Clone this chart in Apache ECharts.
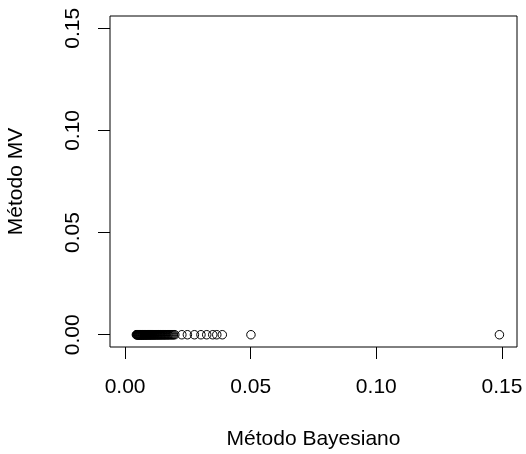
<!DOCTYPE html>
<html>
<head>
<meta charset="utf-8">
<script src="https://cdn.jsdelivr.net/npm/echarts@6/dist/echarts.min.js"></script>
<style>
html,body{margin:0;padding:0;background:#fff;}
#chart{width:526px;height:454px;}
</style>
</head>
<body>
<div id="chart"></div>
<script>
// Data (x = Método Bayesiano, y = Método MV)
var bayesValues = [
  0.0045, 0.0047, 0.0048, 0.0050, 0.0051, 0.0053, 0.0054, 0.0056, 0.0057, 0.0059,
  0.0060, 0.0062, 0.0063, 0.0065, 0.0067, 0.0068, 0.0070, 0.0071, 0.0073, 0.0075,
  0.0076, 0.0078, 0.0080, 0.0081, 0.0083, 0.0085, 0.0087, 0.0088, 0.0090, 0.0092,
  0.0094, 0.0096, 0.0098, 0.0100, 0.0102, 0.0104, 0.0106, 0.0108, 0.0110, 0.0113,
  0.0115, 0.0117, 0.0119, 0.0122, 0.0124, 0.0127, 0.0129, 0.0132, 0.0134, 0.0137,
  0.0140, 0.0142, 0.0145, 0.0148, 0.0151, 0.0154, 0.0157, 0.0160, 0.0163, 0.0167,
  0.0170, 0.0173, 0.0177, 0.0181, 0.0185, 0.0189, 0.0193, 0.0198,
  0.0226, 0.0248, 0.0276, 0.0302, 0.0325, 0.0349, 0.0365, 0.0387, 0.0501, 0.1490
];
var mvValues = [
  0, 0, 0, 0, 0, 0, 0, 0, 0, 0,
  0, 0, 0, 0, 0, 0, 0, 0, 0, 0,
  0, 0, 0, 0, 0, 0, 0, 0, 0, 0,
  0, 0, 0, 0, 0, 0, 0, 0, 0, 0,
  0, 0, 0, 0, 0, 0, 0, 0, 0, 0,
  0, 0, 0, 0, 0, 0, 0, 0, 0, 0,
  0, 0, 0, 0, 0, 0, 0, 0,
  0, 0, 0, 0, 0, 0, 0, 0, 0, 0
];
var xTicks = [0, 0.05, 0.10, 0.15];
var yTicks = [0, 0.05, 0.10, 0.15];
var xTitle = 'Método Bayesiano';
var yTitle = 'Método MV';

var points = bayesValues.map(function (v, i) { return [v, mvValues[i]]; });
var font = "'Liberation Sans', Arial, sans-serif";

var chart = echarts.init(document.getElementById('chart'), null, {renderer: 'canvas'});
chart.setOption({
  animation: false,
  backgroundColor: '#ffffff',
  grid: {
    left: 110, right: 9, top: 16, bottom: 107,
    outerBoundsMode: 'none',
    containLabel: false,
    show: true, borderColor: '#000', borderWidth: 1, backgroundColor: 'transparent'
  },
  xAxis: {
    type: 'value',
    min: -0.006, max: 0.156,
    name: xTitle,
    nameLocation: 'middle',
    nameGap: 82,
    nameTextStyle: {fontFamily: font, fontSize: 21, color: '#000'},
    axisLine: {show: false, onZero: false},
    axisTick: {show: true, inside: false, length: 12, customValues: xTicks,
      lineStyle: {color: '#000', width: 1}},
    axisLabel: {show: true, customValues: xTicks, margin: 30,
      fontFamily: font, fontSize: 21, color: '#000',
      formatter: function (v) { return v.toFixed(2); }},
    splitLine: {show: false}
  },
  yAxis: {
    type: 'value',
    min: -0.006, max: 0.156,
    name: yTitle,
    nameLocation: 'middle',
    nameGap: 83,
    nameTextStyle: {fontFamily: font, fontSize: 21, color: '#000'},
    axisLine: {show: false, onZero: false},
    axisTick: {show: true, inside: false, length: 12, customValues: yTicks,
      lineStyle: {color: '#000', width: 1}},
    axisLabel: {show: true, customValues: yTicks, margin: 26, rotate: 90,
      fontFamily: font, fontSize: 21, color: '#000',
      formatter: function (v) { return v.toFixed(2); }},
    splitLine: {show: false}
  },
  series: [{
    type: 'scatter',
    data: points,
    symbol: 'circle',
    symbolSize: 8.5,
    itemStyle: {color: 'rgba(0,0,0,0)', borderColor: '#000', borderWidth: 1, opacity: 1},
    emphasis: {disabled: true}
  }]
});
</script>
</body>
</html>
